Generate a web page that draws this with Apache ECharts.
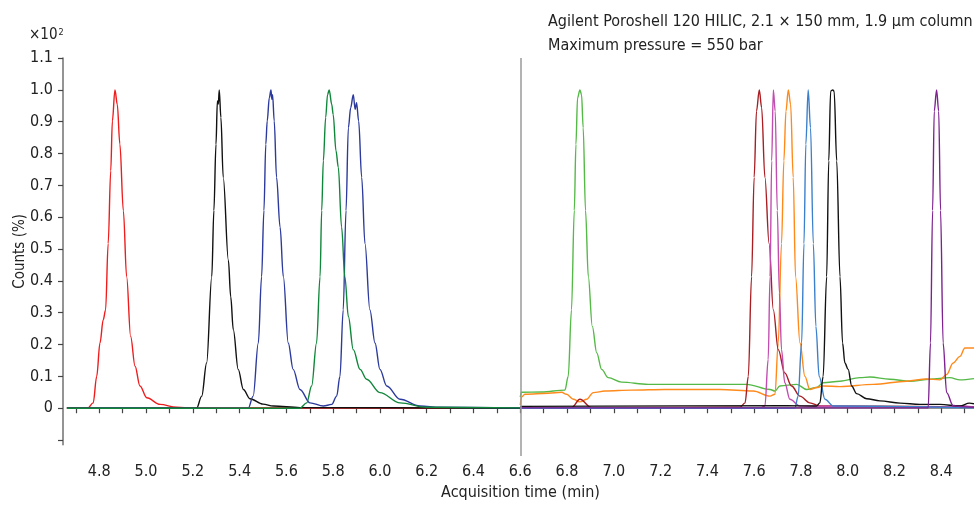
<!DOCTYPE html>
<html>
<head>
<meta charset="utf-8">
<script src="https://cdn.jsdelivr.net/npm/echarts@6/dist/echarts.min.js"></script>
<style>
html,body{margin:0;padding:0;background:#fff;}
#chart{width:974px;height:506px;}
</style>
</head>
<body>
<div id="chart"></div>
<script>
// ---- data (acquisition time in min, counts in units of x10^2 %) ----
const xTickValues = [4.7,4.8,4.9,5.0,5.1,5.2,5.3,5.4,5.5,5.6,5.7,5.8,5.9,6.0,6.1,6.2,6.3,6.4,6.5,6.6,6.7,6.8,6.9,7.0,7.1,7.2,7.3,7.4,7.5,7.6,7.7,7.8,7.9,8.0,8.1,8.2,8.3,8.4,8.5];
const xLabelValues = [4.8,5.0,5.2,5.4,5.6,5.8,6.0,6.2,6.4,6.6,6.8,7.0,7.2,7.4,7.6,7.8,8.0,8.2,8.4];
const yTickValues = [-0.1,0,0.1,0.2,0.3,0.4,0.5,0.6,0.7,0.8,0.9,1.0,1.1];
const yLabelValues = [0,0.1,0.2,0.3,0.4,0.5,0.6,0.7,0.8,0.9,1.0,1.1];
const segmentSplit = 6.6;

const redTrace = [[4.662,0],[4.75,0],[4.774,0.017],[4.789,0.10],[4.803,0.205],[4.817,0.278],[4.827,0.309],[4.838,0.517],[4.849,0.746],[4.856,0.902],[4.867,1.0],[4.877,0.954],[4.888,0.83],[4.903,0.62],[4.917,0.413],[4.934,0.226],[4.953,0.132],[4.974,0.07],[5.003,0.033],[5.06,0.012],[5.13,0.003],[5.2,0.001],[6.6,0]];
const blackLeftTrace = [[4.662,0],[5.216,0],[5.238,0.038],[5.259,0.142],[5.281,0.413],[5.29,0.621],[5.299,0.829],[5.305,0.965],[5.309,0.955],[5.313,1.0],[5.32,0.913],[5.33,0.725],[5.352,0.465],[5.362,0.35],[5.373,0.247],[5.394,0.122],[5.416,0.059],[5.444,0.03],[5.5,0.013],[5.544,0.007],[5.658,0.002],[6.6,0]];
const navyTrace = [[4.662,0],[5.437,0],[5.458,0.038],[5.48,0.205],[5.494,0.413],[5.504,0.621],[5.512,0.829],[5.518,0.902],[5.527,0.975],[5.534,1.0],[5.538,0.97],[5.541,0.985],[5.548,0.902],[5.558,0.725],[5.573,0.569],[5.587,0.413],[5.608,0.205],[5.629,0.122],[5.658,0.059],[5.701,0.017],[5.758,0.007],[5.794,0.012],[5.815,0.038],[5.829,0.10],[5.843,0.309],[5.855,0.621],[5.865,0.881],[5.875,0.944],[5.886,0.985],[5.894,0.939],[5.9,0.96],[5.909,0.902],[5.922,0.725],[5.936,0.517],[5.957,0.309],[5.979,0.205],[6.0,0.122],[6.029,0.07],[6.086,0.028],[6.171,0.007],[6.257,0.003],[6.6,0.001]];
const darkGreenTrace = [[4.662,0],[5.658,0],[5.687,0.017],[5.708,0.07],[5.729,0.205],[5.744,0.413],[5.751,0.621],[5.758,0.777],[5.768,0.913],[5.776,0.985],[5.783,1.0],[5.794,0.954],[5.8,0.923],[5.812,0.809],[5.822,0.757],[5.836,0.569],[5.85,0.413],[5.865,0.288],[5.886,0.184],[5.915,0.122],[5.943,0.091],[6.0,0.049],[6.086,0.017],[6.2,0.003],[6.6,0.001]];

const lightGreenTrace = [[6.6,0.035],[6.605,0.05],[6.691,0.051],[6.791,0.057],[6.805,0.10],[6.819,0.309],[6.831,0.621],[6.838,0.829],[6.845,0.975],[6.855,1.0],[6.862,0.985],[6.869,0.881],[6.879,0.621],[6.891,0.413],[6.908,0.257],[6.927,0.174],[6.948,0.122],[6.976,0.096],[7.033,0.082],[7.147,0.075],[7.432,0.075],[7.568,0.075],[7.668,0.059],[7.689,0.054],[7.71,0.07],[7.782,0.075],[7.824,0.059],[7.867,0.065],[7.895,0.08],[7.967,0.085],[8.052,0.096],[8.095,0.098],[8.18,0.091],[8.266,0.085],[8.351,0.091],[8.437,0.096],[8.48,0.089],[8.54,0.093]];
const orangeTrace = [[6.6,0.01],[6.605,0.035],[6.62,0.044],[6.72,0.047],[6.777,0.05],[6.798,0.044],[6.827,0.028],[6.855,0.02],[6.884,0.028],[6.912,0.049],[6.962,0.054],[7.076,0.057],[7.219,0.059],[7.454,0.059],[7.596,0.054],[7.668,0.038],[7.689,0.044],[7.703,0.205],[7.717,0.517],[7.727,0.777],[7.736,0.933],[7.746,1.0],[7.756,0.954],[7.767,0.725],[7.777,0.413],[7.796,0.205],[7.817,0.10],[7.838,0.059],[7.867,0.065],[7.895,0.07],[7.967,0.068],[8.109,0.075],[8.252,0.085],[8.337,0.092],[8.394,0.089],[8.423,0.106],[8.451,0.142],[8.48,0.163],[8.501,0.189],[8.54,0.189]];
const darkRedTrace = [[6.6,0.002],[6.82,0.002],[6.855,0.028],[6.905,0.002],[7.539,0.003],[7.561,0.017],[7.575,0.10],[7.589,0.413],[7.6,0.725],[7.61,0.933],[7.622,1.0],[7.632,0.944],[7.646,0.725],[7.664,0.517],[7.682,0.309],[7.703,0.184],[7.731,0.111],[7.76,0.07],[7.796,0.038],[7.838,0.017],[7.881,0.007],[8.54,0.004]];
const magentaTrace = [[6.6,0],[7.625,0],[7.646,0.007],[7.66,0.153],[7.668,0.413],[7.675,0.777],[7.682,1.0],[7.69,0.933],[7.699,0.621],[7.708,0.361],[7.717,0.184],[7.731,0.08],[7.753,0.028],[7.796,0.007],[8.4,0.003],[8.47,0.008],[8.54,0.004]];
const skyBlueTrace = [[6.6,0],[7.774,0],[7.788,0.038],[7.803,0.205],[7.813,0.517],[7.821,0.829],[7.831,1.0],[7.841,0.881],[7.853,0.517],[7.864,0.257],[7.878,0.10],[7.903,0.028],[7.938,0.007],[8.54,0.001]];
const blackRightTrace = [[6.6,0.006],[7.74,0.008],[7.867,0.007],[7.881,0.017],[7.895,0.10],[7.91,0.413],[7.919,0.777],[7.927,0.996],[7.936,1.0],[7.942,0.996],[7.953,0.777],[7.967,0.413],[7.978,0.205],[7.988,0.142],[8.002,0.122],[8.017,0.07],[8.038,0.046],[8.081,0.03],[8.138,0.023],[8.224,0.016],[8.309,0.012],[8.394,0.012],[8.48,0.007],[8.52,0.016],[8.54,0.014]];
const purpleTrace = [[6.6,0.001],[8.344,0.001],[8.354,0.205],[8.363,0.621],[8.37,0.933],[8.38,1.0],[8.389,0.933],[8.397,0.621],[8.408,0.205],[8.423,0.049],[8.451,0.008],[8.48,0.005],[8.54,0.003]];

const traces = [
  {name:'red', data: redTrace, color:'#ee1c1c'},
  {name:'black1', data: blackLeftTrace, color:'#111111'},
  {name:'navy', data: navyTrace, color:'#2b3a9c'},
  {name:'dkgreen', data: darkGreenTrace, color:'#10863a'},
  {name:'ltgreen', data: lightGreenTrace, color:'#55b947'},
  {name:'orange', data: orangeTrace, color:'#ff8a1c'},
  {name:'dkred', data: darkRedTrace, color:'#a81e22'},
  {name:'magenta', data: magentaTrace, color:'#c24db0'},
  {name:'sky', data: skyBlueTrace, color:'#3c80cc'},
  {name:'black2', data: blackRightTrace, color:'#111111'},
  {name:'purple', data: purpleTrace, color:'#7e2290'}
];

const FONT = '"DejaVu Sans Condensed","Liberation Sans Narrow","DejaVu Sans",sans-serif';
const chart = echarts.init(document.getElementById('chart'), null, {renderer:'canvas'});

const series = traces.map((t, i) => ({
  type: 'line',
  name: t.name,
  xAxisIndex: 0, yAxisIndex: 0,
  data: t.data,
  showSymbol: false,
  symbol: 'none',
  smooth: 0.35,
  smoothMonotone: 'x',
  lineStyle: {color: t.color, width: 1.4},
  itemStyle: {color: t.color},
  z: 3,
  animation: false,
  markLine: i === 0 ? {
    symbol: 'none', silent: true, animation: false,
    label: {show: false},
    lineStyle: {color: '#9a9a9a', width: 1.5, type: 'solid'},
    data: [{xAxis: segmentSplit}]
  } : undefined
}));

const option = {
  backgroundColor: '#ffffff',
  animation: false,
  title: [
    {
      text: 'Agilent Poroshell 120 HILIC, 2.1 × 150 mm, 1.9 µm column\nMaximum pressure = 550 bar',
      left: 548, top: 10, padding: 0,
      textStyle: {fontFamily: FONT, fontSize: 16, fontWeight: 'normal', color: '#222', lineHeight: 24}
    },
    {
      text: '{a|×10}{s|2}',
      left: 29, top: 28, padding: 0,
      textStyle: {
        fontWeight: 'normal',
        rich: {
          a: {fontFamily: FONT, fontSize: 15, fontWeight: 'normal', color: '#222'},
          s: {fontFamily: FONT, fontSize: 9, fontWeight: 'normal', color: '#222', verticalAlign: 'top', padding: [0,0,6,1]}
        }
      }
    }
  ],
  grid: [
    {left: 67, right: 0, top: 58, bottom: 45},
    {left: 67, right: 0, top: 58, bottom: 61.3}
  ],
  xAxis: [
    {
      gridIndex: 0, type: 'value', min: 4.662, max: 8.54,
      name: 'Acquisition time (min)', nameLocation: 'middle', nameGap: 29,
      nameTextStyle: {fontFamily: FONT, fontSize: 16, color: '#222'},
      axisLine: {show: true, lineStyle: {color: '#707070', width: 1.5}},
      axisTick: {show: true, customValues: xTickValues, length: 5, inside: false, lineStyle: {color: '#444', width: 1.2}},
      axisLabel: {customValues: xLabelValues, formatter: v => v.toFixed(1), fontFamily: FONT, fontSize: 16, color: '#222', margin: 8},
      splitLine: {show: false}
    },
    {
      gridIndex: 1, type: 'value', min: 4.662, max: 8.54, show: false
    }
  ],
  yAxis: [
    {
      gridIndex: 0, type: 'value', min: -0.15, max: 1.1, offset: 4,
      axisLine: {show: false},
      axisTick: {show: true, customValues: yTickValues, length: 5, lineStyle: {color: '#444', width: 1.2}},
      axisLabel: {customValues: yLabelValues, formatter: v => (Math.abs(v) < 1e-9 ? '0' : v.toFixed(1)), fontFamily: FONT, fontSize: 16, color: '#222', margin: 10},
      splitLine: {show: false}
    },
    {
      gridIndex: 1, type: 'value', min: -0.1, max: 1.1, offset: 4,
      name: 'Counts (%)', nameLocation: 'middle', nameGap: 35,
      nameTextStyle: {fontFamily: FONT, fontSize: 15, color: '#222'},
      axisLine: {show: true, lineStyle: {color: '#707070', width: 1.5}},
      axisTick: {show: false},
      axisLabel: {show: false},
      splitLine: {show: false}
    }
  ],
  series: series.concat([{
    type: 'line', xAxisIndex: 1, yAxisIndex: 1, data: [], silent: true
  }])
};
chart.setOption(option);
</script>
</body>
</html>
